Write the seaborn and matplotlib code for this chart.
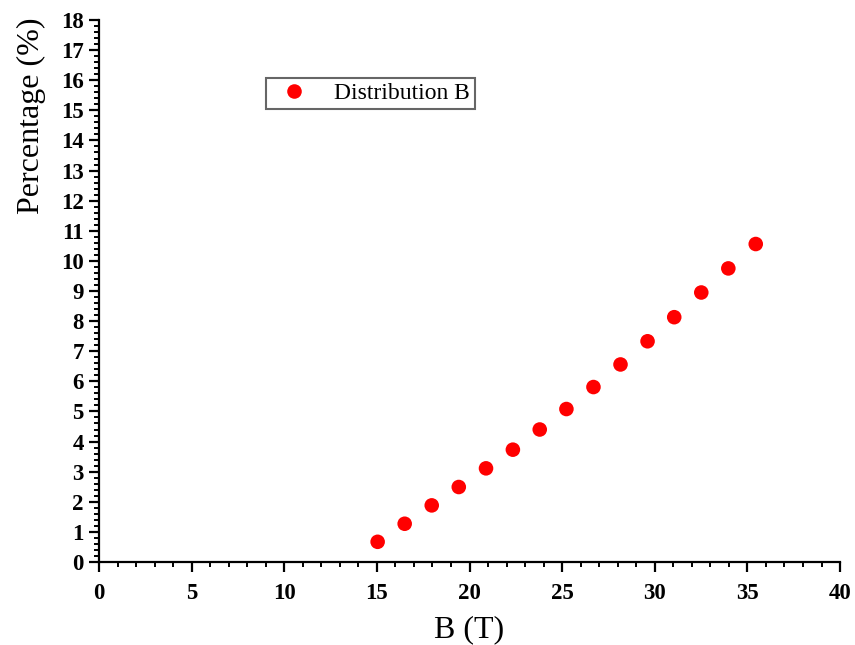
import matplotlib
matplotlib.use("Agg")
import matplotlib.pyplot as plt
from matplotlib.ticker import MultipleLocator
import seaborn as sns
import pandas as pd

# Magnetic field values (T) and the corresponding percentage
b_field = [15.04, 16.50, 17.96, 19.42, 20.89, 22.34, 23.79, 25.23,
           26.69, 28.15, 29.61, 31.05, 32.51, 33.97, 35.45]
percentage = [0.67, 1.27, 1.88, 2.49, 3.11, 3.73, 4.40, 5.08,
              5.81, 6.56, 7.33, 8.13, 8.95, 9.75, 10.56]
series_name = "Distribution B"

df = pd.DataFrame({"B": b_field, "pct": percentage, "series": series_name})

sns.set_theme(style="ticks")
plt.rcParams["font.family"] = ["Liberation Serif", "DejaVu Serif"]
plt.rcParams["text.color"] = "black"
plt.rcParams["axes.labelcolor"] = "black"
plt.rcParams["xtick.color"] = "black"
plt.rcParams["ytick.color"] = "black"

fig = plt.figure(figsize=(8.55, 6.45), dpi=100)
ax = fig.add_axes([0.1158, 0.1287, 0.8667, 0.8403])

sns.scatterplot(data=df, x="B", y="pct", hue="series", palette=["#ff0000"],
                s=110, edgecolor="none", ax=ax, legend=True)

ax.set_xlim(0, 40)
ax.set_ylim(0, 18)
ax.xaxis.set_major_locator(MultipleLocator(5))
ax.xaxis.set_minor_locator(MultipleLocator(1))
ax.yaxis.set_major_locator(MultipleLocator(1))
ax.yaxis.set_minor_locator(MultipleLocator(0.2))

for side in ["top", "right"]:
    ax.spines[side].set_visible(False)
for side in ["left", "bottom"]:
    ax.spines[side].set_linewidth(1.6)
    ax.spines[side].set_color("black")

ax.tick_params(which="major", direction="out", length=7, width=1.6,
               labelsize=16.5, color="black", labelcolor="black")
ax.tick_params(axis="x", which="major", pad=8)
ax.tick_params(axis="y", which="major", pad=4)
ax.tick_params(which="minor", direction="out", length=3.5, width=1.4,
               color="black")
for lbl in ax.get_xticklabels() + ax.get_yticklabels():
    lbl.set_fontweight("bold")

ax.set_xlabel("B (T)", fontsize=23, labelpad=8)
ax.set_ylabel("Percentage (%)", fontsize=23)
ax.yaxis.set_label_coords(-0.072, 0.823)

handles, labels = ax.get_legend_handles_labels()
leg = ax.legend(handles, labels, loc="upper left",
                bbox_to_anchor=(0.225, 0.893), borderaxespad=0,
                fontsize=17, frameon=True, fancybox=False, framealpha=1,
                edgecolor="#666666", markerscale=1.0, handletextpad=0.7,
                borderpad=0.2, handlelength=2.0)
leg.get_frame().set_linewidth(1.5)

fig.savefig("out.png", dpi=100)
